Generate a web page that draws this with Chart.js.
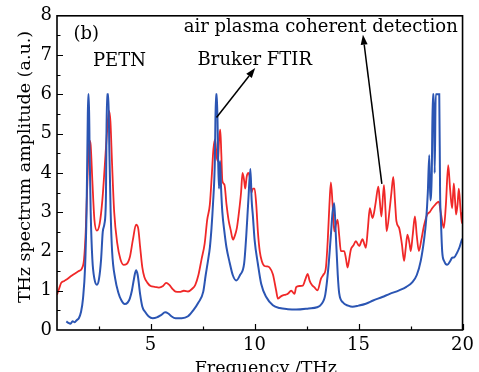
<!DOCTYPE html>
<html><head><meta charset="utf-8">
<script src="https://cdn.jsdelivr.net/npm/chart.js@4.4.0/dist/chart.umd.min.js"></script>
<style>html,body{margin:0;padding:0;background:#fff;overflow:hidden}</style>
</head><body>
<canvas id="c" width="479" height="372"></canvas>
<script>
// ---- data ----
const freqFTIR = [0.95,1.05,1.15,1.25,1.35,1.45,1.55,1.65,1.75,1.85,1.92,1.97,2.0,2.03,2.07,2.12,2.2,2.3,2.42,2.52,2.62,2.7,2.78,2.85,2.9,2.97,3.02,3.08,3.15,3.3,3.45,3.6,3.75,3.9,4.0,4.1,4.2,4.3,4.38,4.5,4.6,4.75,4.9,5.1,5.3,5.5,5.7,5.85,6.0,6.2,6.5,6.8,7.05,7.3,7.53,7.65,7.77,7.85,7.93,8.0,8.09,8.14,8.19,8.25,8.29,8.34,8.39,8.45,8.55,8.65,8.8,8.95,9.12,9.3,9.5,9.6,9.7,9.8,9.86,9.92,10.0,10.16,10.32,10.56,10.88,11.2,11.6,12.0,12.6,13.0,13.2,13.4,13.55,13.67,13.75,13.83,13.9,14.0,14.07,14.25,14.5,14.71,15.0,15.35,15.7,16.14,16.5,16.95,17.3,17.59,17.8,17.99,18.15,18.25,18.33,18.4,18.45,18.52,18.57,18.62,18.66,18.71,18.88,18.92,18.96,19.02,19.12,19.26,19.4,19.5,19.6,19.74,19.85,19.97,20.0];
const ampFTIR  = [0.22,0.18,0.16,0.22,0.2,0.25,0.3,0.45,0.8,1.6,3.0,5.0,6.0,6.0,4.5,3.0,1.8,1.3,1.15,1.3,1.8,2.5,2.7,3.3,6.0,6.0,4.5,3.0,2.0,1.3,0.95,0.75,0.66,0.7,0.8,1.0,1.3,1.52,1.4,0.9,0.6,0.45,0.35,0.3,0.32,0.38,0.45,0.42,0.35,0.3,0.3,0.35,0.5,0.7,0.97,1.4,1.8,2.1,2.6,3.2,4.3,6.0,6.0,4.3,3.6,4.3,3.6,3.0,2.5,2.1,1.72,1.4,1.26,1.4,1.7,2.4,3.3,4.1,3.3,2.9,2.3,1.68,1.17,0.84,0.63,0.56,0.53,0.52,0.55,0.58,0.65,0.9,1.6,2.43,3.0,3.23,2.5,1.4,0.93,0.7,0.62,0.59,0.62,0.67,0.75,0.84,0.92,1.01,1.1,1.22,1.4,1.76,2.3,2.8,3.5,4.45,3.3,4.0,6.0,6.0,4.0,6.0,6.0,3.5,2.8,2.01,1.75,1.66,1.75,1.84,1.85,1.97,2.1,2.3,2.32];

const freqAir = [0.5,0.6,0.7,0.85,1.0,1.2,1.4,1.55,1.7,1.8,1.88,1.95,2.02,2.07,2.12,2.2,2.3,2.42,2.55,2.68,2.8,2.9,3.0,3.07,3.15,3.25,3.4,3.55,3.7,3.85,4.0,4.15,4.3,4.4,4.5,4.6,4.7,4.85,5.0,5.2,5.4,5.6,5.75,5.9,6.05,6.2,6.4,6.6,6.8,7.0,7.15,7.3,7.45,7.6,7.72,7.85,7.95,8.02,8.1,8.18,8.24,8.3,8.35,8.4,8.45,8.55,8.65,8.75,8.85,8.96,9.05,9.15,9.25,9.35,9.42,9.5,9.55,9.62,9.7,9.78,9.85,9.92,10.0,10.08,10.16,10.25,10.35,10.48,10.6,10.72,10.88,11.04,11.12,11.25,11.36,11.5,11.6,11.76,11.92,12.0,12.15,12.32,12.45,12.55,12.65,12.75,12.87,13.03,13.19,13.3,13.43,13.52,13.6,13.67,13.75,13.83,13.92,13.99,14.07,14.15,14.31,14.4,14.47,14.55,14.63,14.75,14.87,15.03,15.19,15.27,15.35,15.45,15.54,15.67,15.75,15.83,15.95,16.02,16.1,16.22,16.3,16.35,16.5,16.58,16.67,16.75,16.82,16.95,17.08,17.19,17.27,17.35,17.45,17.51,17.6,17.71,17.8,17.9,18.02,18.14,18.3,18.42,18.54,18.7,18.86,18.95,19.1,19.2,19.31,19.4,19.5,19.58,19.64,19.69,19.76,19.82,19.9,19.97,20.0];
const ampAir  = [0.9,1.05,1.2,1.25,1.3,1.38,1.45,1.5,1.57,1.8,2.5,3.6,4.6,4.82,4.7,3.8,2.8,2.53,2.7,3.3,4.2,5.0,5.58,5.3,4.2,3.0,2.2,1.8,1.66,1.68,1.85,2.3,2.68,2.6,2.1,1.6,1.35,1.2,1.12,1.1,1.08,1.12,1.2,1.15,1.05,0.98,0.97,1.0,0.98,1.05,1.15,1.4,1.8,2.2,2.8,3.2,4.0,4.6,4.85,4.4,4.3,4.9,5.1,4.5,3.8,3.7,3.2,2.8,2.55,2.3,2.4,2.6,3.0,3.5,4.0,3.8,3.6,3.9,4.0,3.85,3.5,3.6,3.6,3.2,2.5,2.0,1.75,1.63,1.62,1.59,1.42,1.0,0.8,0.85,0.88,0.9,0.92,1.0,0.92,1.09,1.12,1.13,1.3,1.43,1.25,1.15,1.09,1.01,1.3,1.4,1.59,2.3,3.2,3.76,3.2,2.51,2.7,2.81,2.4,2.01,2.01,1.8,1.59,1.8,2.05,2.15,2.26,2.14,2.31,2.2,2.09,2.6,3.1,2.85,3.0,3.27,3.65,3.3,2.89,3.69,3.0,2.51,3.1,3.5,3.9,3.3,2.77,2.6,2.2,1.76,2.1,2.43,2.2,2.01,2.4,2.89,2.4,2.01,2.3,2.64,2.94,3.0,3.1,3.2,3.27,3.0,2.6,3.2,4.2,3.6,3.1,3.73,3.3,2.94,3.2,3.6,3.1,2.72,3.0];

const xTickValues = [5,10,15,20];
const yTickValues = [0,1,2,3,4,5,6,7,8];
const xTitle = 'Frequency /THz';
const yTitle = 'THz spectrum amplitude (a.u.)';
// annotations: [text, x, y] in data units (centre, baseline)
const labels = [['(b)',1.91,7.42],['PETN',3.5,6.72],['Bruker FTIR',10.01,6.74],['air plasma coherent detection',13.18,7.6]];
// arrows: [fromX, fromY, toX, toY] in data units
const arrows = [[8.17,5.41,10.03,6.67],[16.12,3.72,15.21,7.52]];

const FONT = '"DejaVu Serif", serif';
const toXY = (xs, ys) => xs.map((x,i)=>({x, y: ys[i]}));

const decor = {
  id: 'decor',
  afterDraw(chart) {
    const {ctx, chartArea: a, scales: {x, y}} = chart;
    ctx.save();
    ctx.strokeStyle = '#000';
    // frame
    ctx.lineWidth = 1.6;
    ctx.strokeRect(a.left, a.top, a.right - a.left, a.bottom - a.top);
    // inward ticks
    ctx.lineWidth = 1.2;
    ctx.beginPath();
    for (let v = 2.5; v <= 20; v += 2.5) {
      const px = Math.round(x.getPixelForValue(v)) + 0.5;
      const len = (v % 5 === 0) ? 6 : 3.5;
      ctx.moveTo(px, a.bottom); ctx.lineTo(px, a.bottom - len);
    }
    for (let v = 0.5; v < 8; v += 0.5) {
      const py = Math.round(y.getPixelForValue(v)) + 0.5;
      const len = (v % 1 === 0) ? 6 : 3.5;
      ctx.moveTo(a.left, py); ctx.lineTo(a.left + len, py);
    }
    ctx.stroke();
    // texts
    ctx.fillStyle = '#000';
    ctx.font = '18px ' + FONT;
    ctx.textAlign = 'center';
    ctx.textBaseline = 'alphabetic';
    labels.forEach(([t, lx, ly]) => ctx.fillText(t, x.getPixelForValue(lx), y.getPixelForValue(ly)));
    // arrows
    ctx.lineWidth = 1.5;
    arrows.forEach(([x0,y0,x1,y1]) => {
      const ax = x.getPixelForValue(x0), ay = y.getPixelForValue(y0);
      const bx = x.getPixelForValue(x1), by = y.getPixelForValue(y1);
      const ang = Math.atan2(by - ay, bx - ax);
      const L = 10, W = 3.5;
      const cx = bx - L*Math.cos(ang), cy = by - L*Math.sin(ang);
      ctx.beginPath(); ctx.moveTo(ax, ay); ctx.lineTo(cx, cy); ctx.stroke();
      ctx.beginPath();
      ctx.moveTo(bx, by);
      ctx.lineTo(cx + W*Math.sin(ang), cy - W*Math.cos(ang));
      ctx.lineTo(cx - W*Math.sin(ang), cy + W*Math.cos(ang));
      ctx.closePath(); ctx.fill();
    });
    // axis titles
    ctx.font = '17.5px ' + FONT;
    ctx.fillText(xTitle, (a.left + a.right)/2 + 6, 373);
    ctx.save();
    ctx.translate(25, 167);
    ctx.rotate(-Math.PI/2);
    ctx.textBaseline = 'middle';
    ctx.fillText(yTitle, 0, 0);
    ctx.restore();
    ctx.restore();
  }
};

new Chart(document.getElementById('c'), {
  type: 'line',
  data: {
    datasets: [
      {label: 'Bruker FTIR', data: toXY(freqFTIR, ampFTIR), borderColor: '#2b55b3', borderWidth: 2, pointRadius: 0, cubicInterpolationMode: 'monotone', fill: false},
      {label: 'air plasma coherent detection', data: toXY(freqAir, ampAir), borderColor: '#f02828', borderWidth: 1.8, pointRadius: 0, cubicInterpolationMode: 'monotone', fill: false}
    ]
  },
  options: {
    responsive: false, animation: false, devicePixelRatio: 1,
    layout: {padding: {top: 12, right: 15, left: 0, bottom: 0}},
    plugins: {legend: {display: false}, tooltip: {enabled: false}},
    scales: {
      x: {
        type: 'linear', min: 0.5, max: 20,
        afterBuildTicks: s => { s.ticks = xTickValues.map(v => ({value: v})); },
        afterFit: s => { s.height = 42; },
        grid: {display: false, drawTicks: false},
        border: {display: false},
        ticks: {color: '#000', font: {family: FONT, size: 18}, padding: 5, maxRotation: 0, autoSkip: false}
      },
      y: {
        type: 'linear', min: 0, max: 8,
        afterBuildTicks: s => { s.ticks = yTickValues.map(v => ({value: v})); },
        afterFit: s => { s.width = 57; },
        grid: {display: false, drawTicks: false},
        border: {display: false},
        ticks: {color: '#000', font: {family: FONT, size: 18}, padding: 5, autoSkip: false}
      }
    }
  },
  plugins: [decor]
});
</script>
</body></html>
